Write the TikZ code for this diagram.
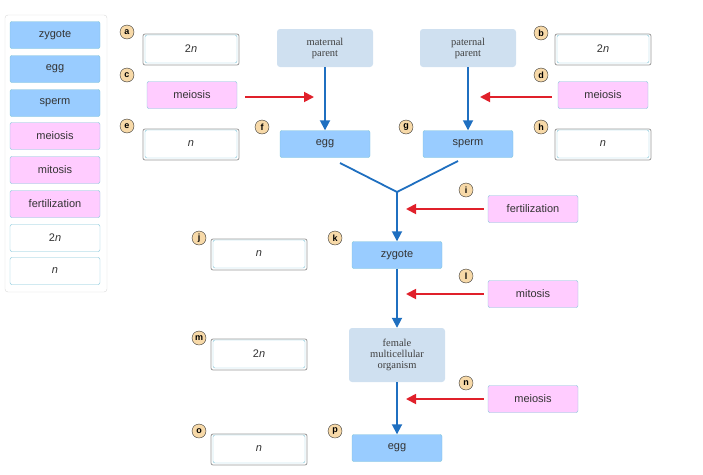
\documentclass[tikz,border=0pt]{standalone}
\usetikzlibrary{arrows.meta}
\usepackage{fontspec}
\setmainfont{Liberation Sans}
\newfontfamily\serifx{Liberation Serif}
\definecolor{cblue}{HTML}{99CCFF}
\definecolor{cpink}{HTML}{FFCCFF}
\definecolor{cfix}{HTML}{CFE0F0}
\definecolor{carr}{HTML}{1F6FC0}
\definecolor{cred}{HTML}{E0202A}
\definecolor{cbord}{HTML}{7FC4D8}
\definecolor{clbl}{HTML}{F7D9A8}
\begin{document}
\begin{tikzpicture}[x=1pt,y=-1pt,
 chip/.style={draw=cbord, rounded corners=2pt, minimum width=90pt, minimum height=27pt, font=\fontsize{11}{13}\selectfont, text=black!80, inner sep=1pt},
 blue/.style={chip, fill=cblue},
 pink/.style={chip, fill=cpink},
 wbox/.style={chip, fill=white, minimum width=92pt, minimum height=28pt},
 shadow/.style={draw=gray!80, rounded corners=2pt, line width=0.8pt},
 lbl/.style={circle, draw=black!80, fill=clbl, inner sep=0pt, minimum size=14pt, font=\bfseries\fontsize{9}{10}\selectfont},
 fixed/.style={fill=cfix, rounded corners=3pt, minimum width=96pt, minimum height=38pt, align=center, font=\serifx\fontsize{10.5}{11}\selectfont, text=black!75},
 barr/.style={draw=carr, line width=1.8pt, -{Triangle[length=10pt,width=10pt]}},
 rarr/.style={draw=cred, line width=1.8pt, -{Triangle[length=10pt,width=10pt]}}
]
\useasboundingbox (0,0) rectangle (703,474);
\draw[gray!30, rounded corners=3pt] (5,15) rectangle (107,292);
\node[blue] (p1) at (55,35) {zygote};
\node[blue] (p2) at (55,69) {egg};
\node[blue] (p3) at (55,103) {sperm};
\node[pink] (p4) at (55,136) {meiosis};
\node[pink] (p5) at (55,170) {mitosis};
\node[pink] (p6) at (55,204) {fertilization};
\node[chip,fill=white] (p7) at (55,238) {2\textit{n}};
\node[chip,fill=white] (p8) at (55,271) {\textit{n}};
\foreach \n/\x/\y/\t in {a/191/49/2\textit{n}, e/191/144/\textit{n}, b/603/49/2\textit{n}, h/603/144/\textit{n}, j/259/254/\textit{n}, m/259/354/2\textit{n}, o/259/449/\textit{n}}{
 \draw[shadow] (\x-48,\y-15) rectangle (\x+48,\y+16);
 \node[wbox] (box\n) at (\x,\y) {\t};
}
\node[pink] (boxc) at (192,95) {meiosis};
\node[pink] (boxd) at (603,95) {meiosis};
\node[pink] (boxi) at (533,209) {fertilization};
\node[pink] (boxl) at (533,294) {mitosis};
\node[pink] (boxn) at (533,399) {meiosis};
\node[fixed] (mat) at (325,48) {maternal\\parent};
\node[fixed] (pat) at (468,48) {paternal\\parent};
\node[fixed, minimum height=54pt] (fem) at (397,355) {female\\multicellular\\organism};
\node[blue] (egg1) at (325,144) {egg};
\node[blue] (sperm) at (468,144) {sperm};
\node[blue] (zyg) at (397,255) {zygote};
\node[blue] (egg2) at (397,448) {egg};
\foreach \l/\x/\y in {a/127/32, b/541/33, c/127/75, d/541/75, e/127/126, f/262/127, g/406/127, h/541/127, i/466/190, j/199/238, k/335/238, l/466/276, m/199/338, n/466/383, o/199/431, p/335/431}
 \node[lbl] (L\l) at (\x,\y) {\l};
\draw[barr] (mat) -- (egg1);
\draw[barr] (pat) -- (sperm);
\coordinate (vj) at (397,192);
\draw[carr, line width=1.8pt] (340,163) -- (vj) -- (458,161);
\draw[barr] (vj) -- (zyg);
\draw[barr] (zyg) -- (fem);
\draw[barr] (fem) -- (egg2);
\coordinate (tc) at (314,97); \coordinate (td) at (480,97);
\coordinate (ti) at (406,209); \coordinate (tl) at (406,294); \coordinate (tn) at (406,399);
\draw[rarr] (boxc.east) ++(8,2) -- (tc);
\draw[rarr] (boxd.west) ++(-6,2) -- (td);
\draw[rarr] (boxi.west) ++(-4,0) -- (ti);
\draw[rarr] (boxl.west) ++(-4,0) -- (tl);
\draw[rarr] (boxn.west) ++(-4,0) -- (tn);
\end{tikzpicture}
\end{document}
